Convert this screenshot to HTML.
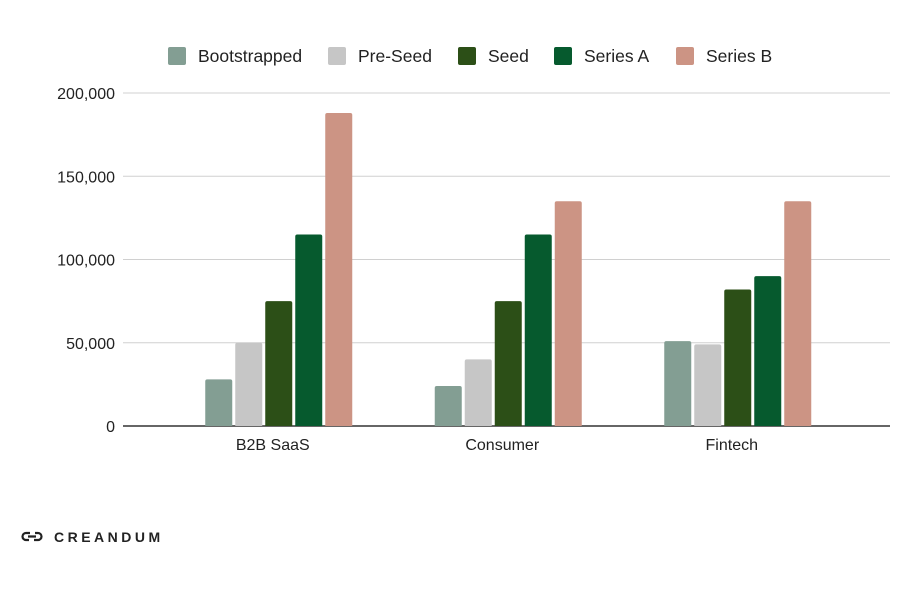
<!DOCTYPE html>
<html><head><meta charset="utf-8"><style>
body{margin:0;background:#fff;width:906px;height:586px;overflow:hidden;font-family:"Liberation Sans",sans-serif}
</style></head><body>
<svg id="chart" width="906" height="586" xmlns="http://www.w3.org/2000/svg" font-family="Liberation Sans, sans-serif">
<g id="grid"></g>
<g id="bars"></g>
<g id="xlabels"></g>
<g id="ylabels"></g>
<g id="legend"></g>
<g>
<path d="M30 533 h-4 a3.5 3.5 0 0 0 0 7 h3 M34 540 h4 a3.5 3.5 0 0 0 0 -7 h-3 M28 536.5 h8" stroke="#222" stroke-width="2.2" fill="none"/>
<text x="54" y="542" font-size="14" font-weight="bold" letter-spacing="3.5" fill="#222">CREANDUM</text>
</g>
</svg>
<script>
const categories=["B2B SaaS","Consumer","Fintech"];
const seriesNames=["Bootstrapped","Pre-Seed","Seed","Series A","Series B"];
const bootstrapped=[28000,24000,51000];
const preSeed=[50000,40000,49000];
const seed=[75000,75000,82000];
const seriesA=[115000,115000,90000];
const seriesB=[188000,135000,135000];
const yTicks=[0,50000,100000,150000,200000];
const yTickLabels=["0","50,000","100,000","150,000","200,000"];
const colors=["#839e93","#c6c6c6","#2c4f17","#065a2e","#cc9484"];
const series=[bootstrapped,preSeed,seed,seriesA,seriesB];
const NS="http://www.w3.org/2000/svg";
const y0=426,y1=93,yMax=200000;
const yScale=v=>y0-(v/yMax)*(y0-y1);
const bandStart=164,bandW=229.5;
const xCenter=i=>bandStart+bandW*(i+0.5);
function mk(tag,attrs,parent){const e=document.createElementNS(NS,tag);for(const k in attrs)e.setAttribute(k,attrs[k]);parent.appendChild(e);return e;}
const grid=document.getElementById('grid'),bars=document.getElementById('bars'),xl=document.getElementById('xlabels'),yl=document.getElementById('ylabels'),lg=document.getElementById('legend');
yTicks.forEach((t,i)=>{
  const y=yScale(t);
  const l=mk('line',{x1:123,x2:890,y1:y,y2:y,stroke:i===0?'#333':'#d0d0d0','stroke-width':i===0?1.5:1},grid);
  
  
  const tx=mk('text',{x:115,y:y+6,'text-anchor':'end','font-size':16,fill:'#222'},yl);
  tx.textContent=yTickLabels[i];
  
  
});
const bw=27,step=30;
categories.forEach((c,ci)=>{
  const cx=xCenter(ci);
  series.forEach((s,si)=>{
    const x=cx-2*step-bw/2+si*step;
    const y=yScale(s[ci]);
    const r=mk('path',{d:`M${x} ${y0} V${y+2} Q${x} ${y} ${x+2} ${y} H${x+bw-2} Q${x+bw} ${y} ${x+bw} ${y+2} V${y0} Z`,fill:colors[si]},bars);
    
    
  });
  const t=mk('text',{x:cx-6,y:450,'text-anchor':'middle','font-size':16,fill:'#222'},xl);
  t.textContent=c;
  
  
});
const legX=[168,328,458,554,676];
seriesNames.forEach((n,i)=>{
  const g=mk('g',{},lg);
  
  
  mk('rect',{x:legX[i],y:47,width:18,height:18,rx:2,fill:colors[i]},g);
  const t=mk('text',{x:legX[i]+30,y:62,'font-size':17.5,fill:'#222'},g);
  t.textContent=n;
});
</script>
</body></html>
